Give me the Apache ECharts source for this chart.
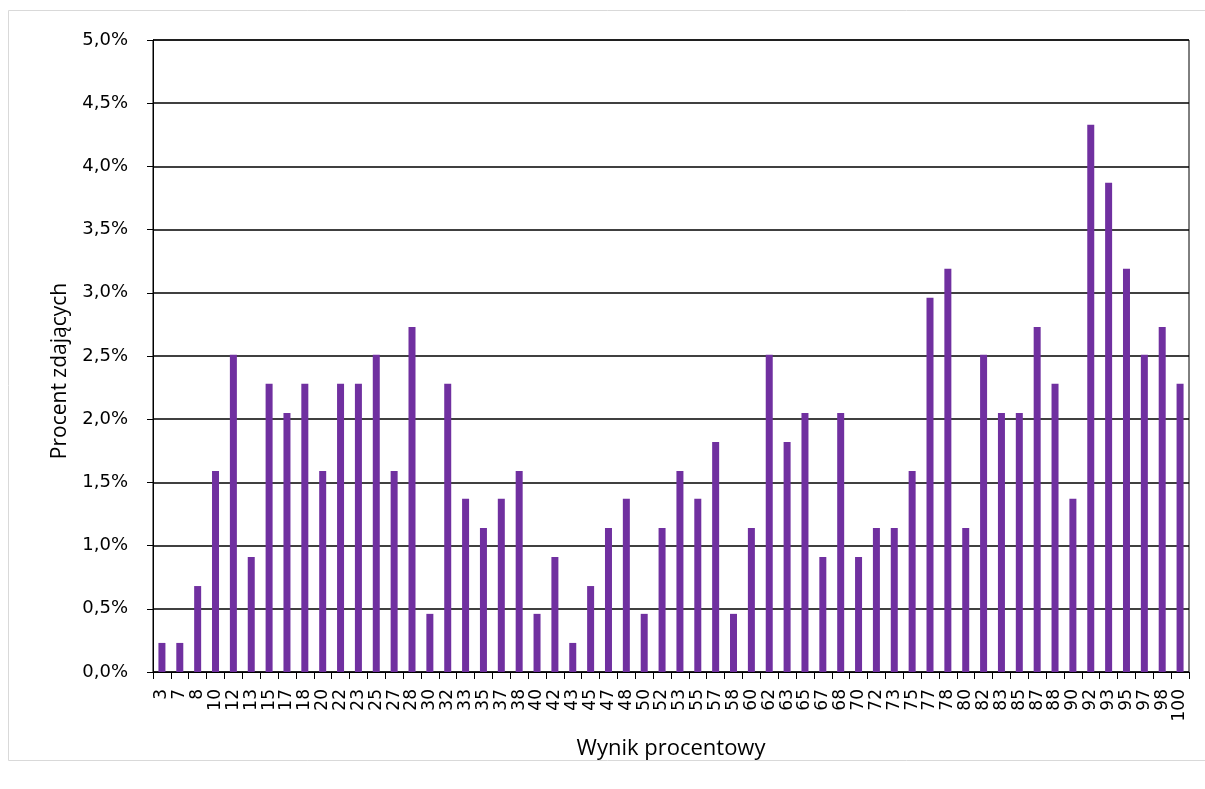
<!DOCTYPE html>
<html>
<head>
<meta charset="utf-8">
<script src="https://cdn.jsdelivr.net/npm/echarts@6/dist/echarts.min.js"></script>
<style>html,body{margin:0;padding:0;background:#fff}#c{width:1205px;height:789px}</style>
</head>
<body>
<div id="c"></div>
<script>
const categories = ['3','7','8','10','12','13','15','17','18','20','22','23','25','27','28','30','32','33','35','37','38','40','42','43','45','47','48','50','52','53','55','57','58','60','62','63','65','67','68','70','72','73','75','77','78','80','82','83','85','87','88','90','92','93','95','97','98','100'];
const percentValues = [0.23,0.23,0.68,1.59,2.51,0.91,2.28,2.05,2.28,1.59,2.28,2.28,2.51,1.59,2.73,0.46,2.28,1.37,1.14,1.37,1.59,0.46,0.91,0.23,0.68,1.14,1.37,0.46,1.14,1.59,1.37,1.82,0.46,1.14,2.51,1.82,2.05,0.91,2.05,0.91,1.14,1.14,1.59,2.96,3.19,1.14,2.51,2.05,2.05,2.73,2.28,1.37,4.33,3.87,3.19,2.51,2.73,2.28];
const yTicks = [0,0.5,1,1.5,2,2.5,3,3.5,4,4.5,5];

const chart = echarts.init(document.getElementById('c'));
chart.setOption({
  animation:false,
  graphic:[{type:'rect',shape:{x:8.5,y:10.5,width:1200,height:750},style:{fill:'none',stroke:'#d9d9d9',lineWidth:1}}],
  grid:{left:153,right:16,top:40,bottom:117,show:true,borderColor:'#000',borderWidth:1},
  xAxis:{
    type:'category',data:categories,
    name:'Wynik procentowy',nameLocation:'middle',nameGap:66,
    nameTextStyle:{fontFamily:'Open Sans',fontSize:22,color:'#000'},
    axisLine:{lineStyle:{color:'#000',width:1}},
    axisTick:{show:true,alignWithLabel:false,length:7,lineStyle:{color:'#000'}},
    axisLabel:{rotate:90,interval:0,fontFamily:'DejaVu Sans',fontSize:17,color:'#000',margin:17}
  },
  yAxis:{
    type:'value',min:yTicks[0],max:yTicks[yTicks.length-1],interval:0.5,
    name:'Procent zdających',nameLocation:'middle',nameGap:82,
    nameTextStyle:{fontFamily:'Open Sans',fontSize:21,color:'#000',padding:[0,30,0,0]},
    axisLine:{show:true,lineStyle:{color:'#000'}},
    axisTick:{show:true,length:6,lineStyle:{color:'#000'}},
    splitLine:{lineStyle:{color:'#000',width:1.6}},
    axisLabel:{fontFamily:'DejaVu Sans',fontSize:18,color:'#000',margin:25,
      formatter:v=>v.toFixed(1).replace('.',',')+'%'}
  },
  series:[{type:'bar',data:percentValues,barWidth:7,itemStyle:{color:'#7030A0'}}]
});
</script>
</body>
</html>
